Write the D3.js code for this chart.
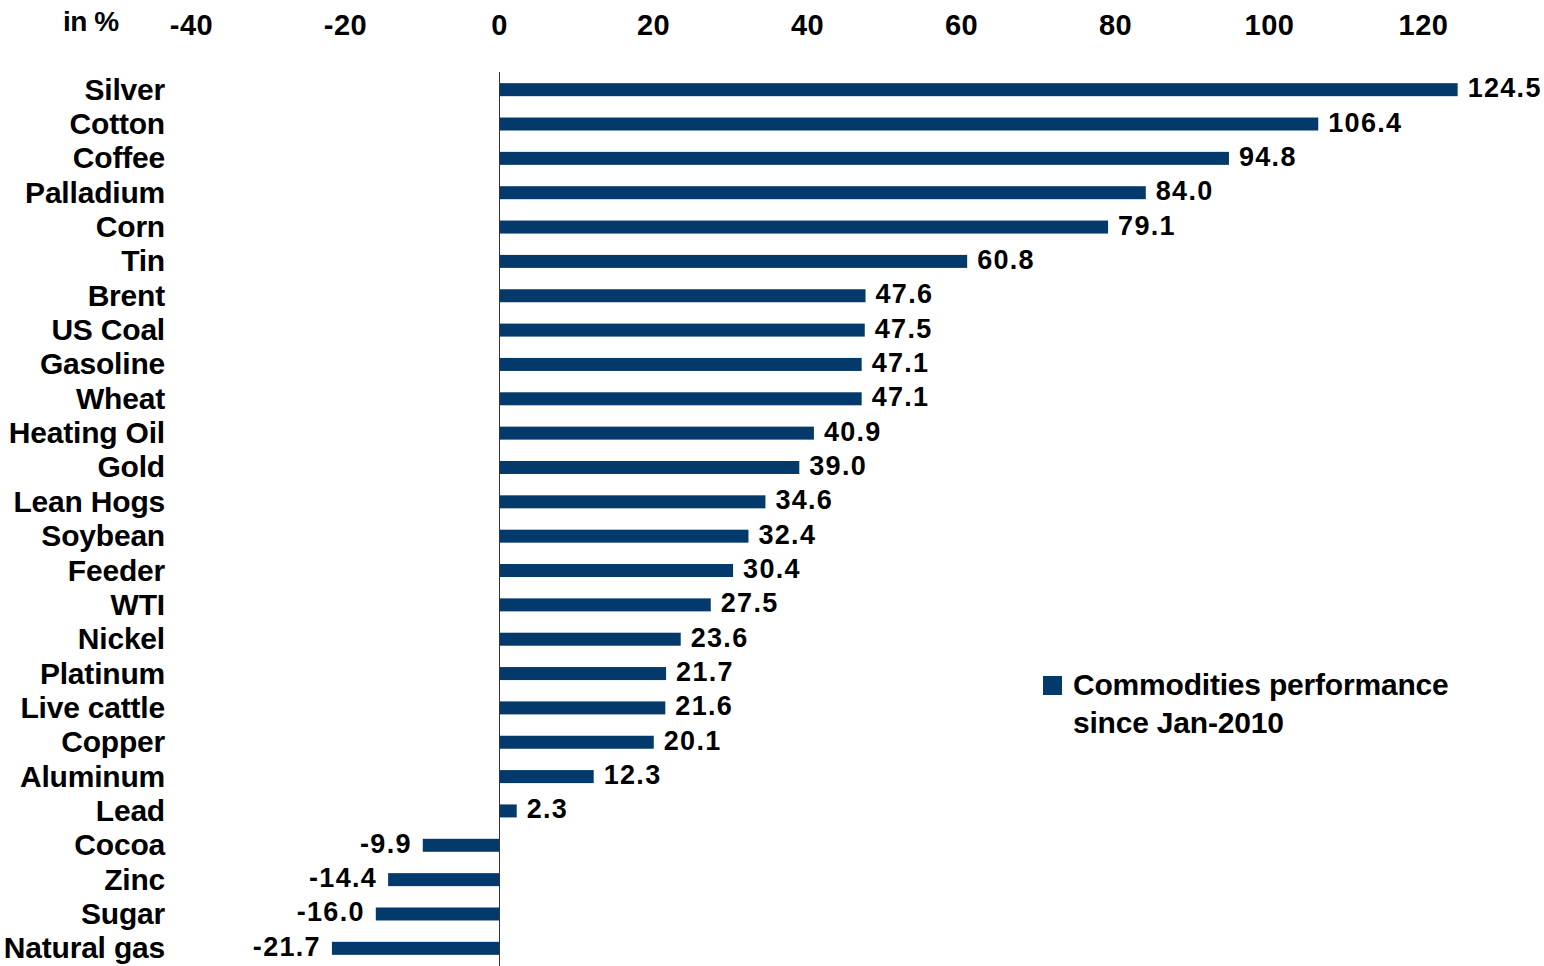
<!DOCTYPE html>
<html><head><meta charset="utf-8">
<script src="https://cdn.jsdelivr.net/npm/d3@7"></script>
<style>
html,body{margin:0;padding:0;background:#fff;}
text{font-family:"Liberation Sans",Arial,sans-serif;font-weight:bold;fill:#000;}
</style></head>
<body><svg id="c" width="1544" height="966"></svg>
<script>
const categories = ["Silver","Cotton","Coffee","Palladium","Corn","Tin","Brent","US Coal","Gasoline","Wheat","Heating Oil","Gold","Lean Hogs","Soybean","Feeder","WTI","Nickel","Platinum","Live cattle","Copper","Aluminum","Lead","Cocoa","Zinc","Sugar","Natural gas"];
const values = [124.5,106.4,94.8,84.0,79.1,60.8,47.6,47.5,47.1,47.1,40.9,39.0,34.6,32.4,30.4,27.5,23.6,21.7,21.6,20.1,12.3,2.3,-9.9,-14.4,-16.0,-21.7];
const tickValues = [-40,-20,0,20,40,60,80,100,120];
const seriesName = ["Commodities performance","since Jan-2010"];
const unitLabel = "in %";

const barColor = "#043a6b";
const svg = d3.select("#c");
const x = d3.scaleLinear().domain([0,120]).range([499,1423]);
const y = d3.scaleBand().domain(categories).range([72,965]).paddingInner(0.6).paddingOuter(0.3);

// bars
svg.append("g").selectAll("rect").data(values).join("rect")
  .attr("x",(d)=>x(Math.min(0,d)))
  .attr("y",(d,i)=>y(categories[i]) + y.bandwidth()/2 - 6)
  .attr("width",d=>Math.abs(x(d)-x(0)))
  .attr("height",13)
  .attr("fill",barColor);

// zero axis line
svg.append("line").attr("x1",x(0)+0.5).attr("x2",x(0)+0.5).attr("y1",72).attr("y2",966)
  .attr("stroke","#333").attr("stroke-width",1);

// top axis ticks labels
const ax = d3.axisTop(x).tickValues(tickValues).tickSize(0).tickFormat(d=>String(d));
const axg = svg.append("g").attr("transform","translate(0,35)").call(ax);
axg.select(".domain").remove();
axg.selectAll("text").attr("dy",0).attr("y",0).style("font-size","29px").style("letter-spacing","0.5px")
  .style("font-family","'Liberation Sans',Arial,sans-serif").style("font-weight","bold").attr("fill","#000");

svg.append("text").attr("x",63).attr("y",31).style("font-size","28px").style("letter-spacing","-0.5px").text(unitLabel);

// category labels
svg.append("g").selectAll("text").data(categories).join("text")
  .attr("x",165).attr("y",d=>y(d)+y.bandwidth()/2+10.5)
  .attr("text-anchor","end").style("font-size","30px").style("letter-spacing","-0.2px")
  .text(d=>d);

// value labels
svg.append("g").selectAll("text").data(values).join("text")
  .attr("x",d=> d>=0 ? x(d)+10 : x(d)-11)
  .attr("y",(d,i)=>y(categories[i])+y.bandwidth()/2+8)
  .attr("text-anchor",d=>d>=0?"start":"end")
  .style("font-size","27px").style("letter-spacing","1.3px")
  .text(d=>d.toFixed(1));

// legend
svg.append("rect").attr("x",1043).attr("y",676).attr("width",19).attr("height",19).attr("fill",barColor);
svg.append("g").selectAll("text").data(seriesName).join("text")
  .attr("x",1073).attr("y",(d,i)=>695+i*38)
  .style("font-size","30px").style("letter-spacing","-0.2px")
  .text(d=>d);
</script></body></html>
